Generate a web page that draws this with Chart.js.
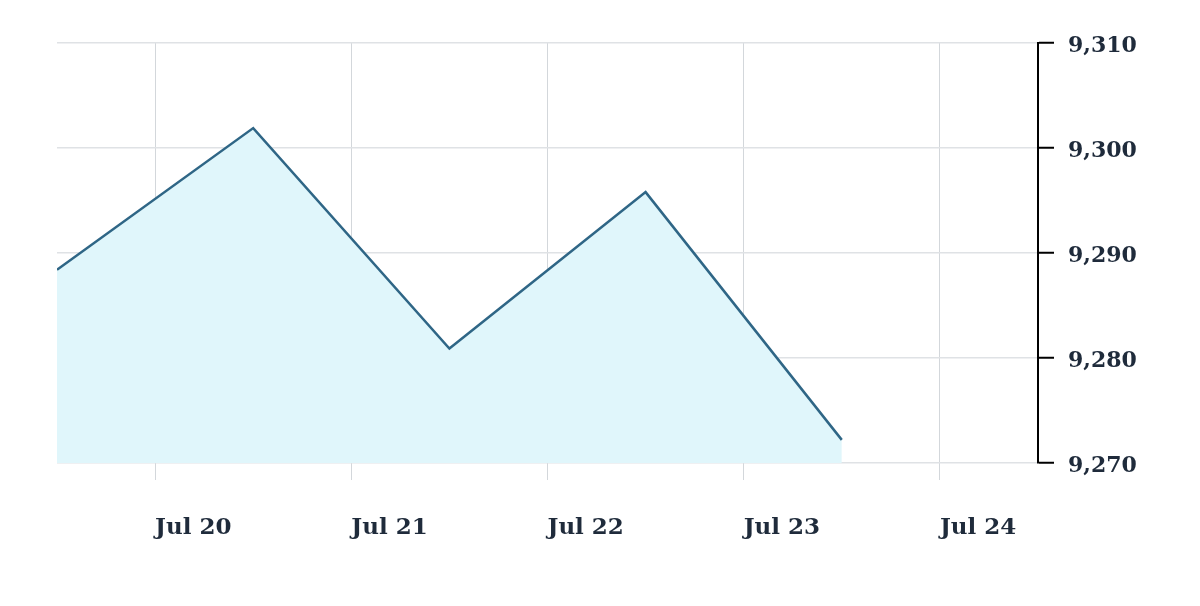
<!DOCTYPE html>
<html>
<head>
<meta charset="utf-8">
<script src="https://cdn.jsdelivr.net/npm/chart.js@4"></script>
<style>
html,body{margin:0;padding:0;background:#fff;}
#wrap{width:1200px;height:606px;position:relative;}
</style>
</head>
<body>
<div id="wrap"><canvas id="c" width="1200" height="606"></canvas></div>
<script>
// Data (x = days relative to Jul 20 00:00)
const pointDays = [-0.5, 0.5, 1.5, 2.5, 3.5];
const values = [9288.4, 9301.9, 9280.9, 9295.8, 9272.2];
const tickLabels = ['Jul 20', 'Jul 21', 'Jul 22', 'Jul 23', 'Jul 24'];
const yTicks = [9270, 9280, 9290, 9300, 9310];

const data = pointDays.map((d, i) => ({x: d, y: values[i]}));
const textColor = '#1f2b3b';

new Chart(document.getElementById('c'), {
  type: 'line',
  data: {
    datasets: [{
      data: data,
      borderColor: '#2f6686',
      borderWidth: 2.5,
      backgroundColor: '#e0f6fb',
      fill: 'start',
      pointRadius: 0,
      tension: 0
    }]
  },
  options: {
    responsive: false,
    animation: false,
    plugins: { legend: { display: false }, tooltip: { enabled: false } },
    layout: { padding: { left: 57, top: 43, right: 0, bottom: 40 } },
    scales: {
      x: {
        type: 'linear',
        min: -0.5,
        max: 4.5,
        afterBuildTicks: s => { s.ticks = tickLabels.map((_, i) => ({value: i})); },
        afterFit: s => { s.height = 103; },
        border: { display: false },
        grid: { color: '#d3d7db', lineWidth: 1, tickLength: 17, drawTicks: true, tickColor: '#d3d7db' },
        ticks: {
          align: 'start',
          padding: 34,
          maxRotation: 0,
          autoSkip: false,
          color: textColor,
          font: { family: 'DejaVu Serif', weight: 'bold', size: 23 },
          callback: v => tickLabels[v]
        }
      },
      y: {
        position: 'right',
        min: yTicks[0],
        max: yTicks[yTicks.length - 1],
        afterBuildTicks: s => { s.ticks = yTicks.map(v => ({value: v})); },
        afterFit: s => { s.width = 162; },
        border: { display: true, color: '#000', width: 2 },
        grid: { color: '#dfe2e5', lineWidth: 1.5, tickLength: 16, tickColor: '#000', tickWidth: 2 },
        ticks: {
          padding: 14,
          labelOffset: 3,
          color: textColor,
          font: { family: 'DejaVu Serif', weight: 'bold', size: 22 },
          callback: v => v.toLocaleString('en-US')
        }
      }
    }
  }
});
</script>
</body>
</html>
